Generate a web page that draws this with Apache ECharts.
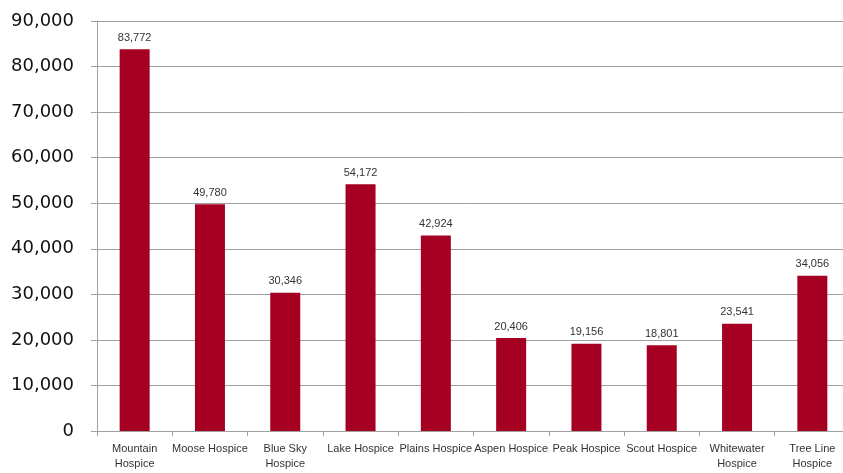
<!DOCTYPE html>
<html>
<head>
<meta charset="utf-8">
<script src="https://cdn.jsdelivr.net/npm/echarts@6/dist/echarts.min.js"></script>
<style>
html,body{margin:0;padding:0;background:#fff;}
#chart{width:843px;height:473px;}
</style>
</head>
<body>
<div id="chart"></div>
<script>
const categories = [
  "Mountain\nHospice", "Moose Hospice", "Blue Sky\nHospice", "Lake Hospice",
  "Plains Hospice", "Aspen Hospice", "Peak Hospice", "Scout Hospice",
  "Whitewater\nHospice", "Tree Line\nHospice"
];
const values = [83772, 49780, 30346, 54172, 42924, 20406, 19156, 18801, 23541, 34056];
const yMin = 0, yMax = 90000, yStep = 10000;

const chart = echarts.init(document.getElementById('chart'), null, {renderer: 'canvas'});
const fmt = v => v.toLocaleString('en-US');
chart.setOption({
  animation: false,
  backgroundColor: '#fff',
  grid: {left: 97, width: 753, top: 21, height: 410, containLabel: false, outerBoundsMode: 'none'},
  xAxis: {
    type: 'category',
    data: categories,
    axisLine: {lineStyle: {color: '#a0a0a0', width: 1}},
    axisTick: {show: true, length: 5, lineStyle: {color: '#a0a0a0'}},
    axisLabel: {
      interval: 0, margin: 10, color: '#333', hideOverlap: false,
      fontFamily: '"Liberation Sans", Arial, sans-serif',
      fontSize: 11, lineHeight: 15
    }
  },
  yAxis: {
    type: 'value', min: yMin, max: yMax, interval: yStep,
    axisLine: {show: true, lineStyle: {color: '#a0a0a0', width: 1}},
    axisTick: {show: true, length: 6, lineStyle: {color: '#a0a0a0'}},
    splitLine: {lineStyle: {color: '#a0a0a0', width: 1}},
    axisLabel: {
      margin: 23, color: '#111',
      fontFamily: '"DejaVu Sans", sans-serif', fontSize: 18,
      formatter: v => fmt(v)
    }
  },
  series: [{
    type: 'bar',
    data: values,
    barWidth: 30,
    itemStyle: {color: '#a50021'},
    label: {
      show: true, position: 'top', distance: 6, color: '#333',
      fontFamily: '"Liberation Sans", Arial, sans-serif',
      fontSize: 11,
      formatter: p => fmt(p.value)
    }
  }]
});
</script>
</body>
</html>
